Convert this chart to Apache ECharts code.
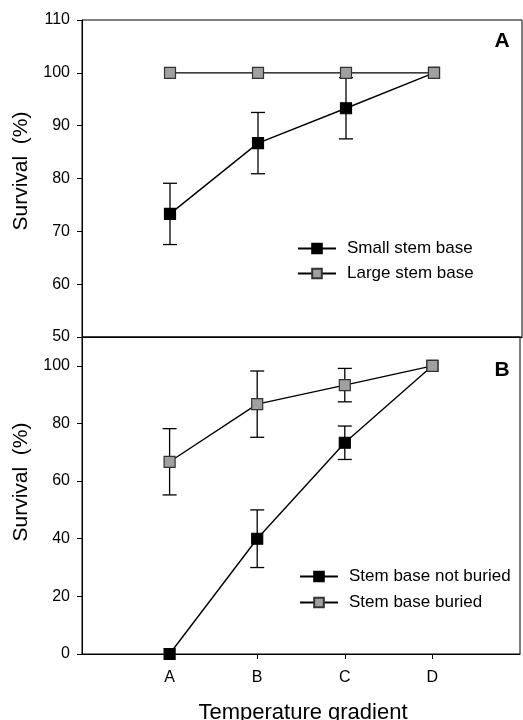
<!DOCTYPE html>
<html>
<head>
<meta charset="utf-8">
<script src="https://cdn.jsdelivr.net/npm/echarts@6/dist/echarts.min.js"></script>
<style>
  html, body { margin: 0; padding: 0; background: #fff; }
  #chart { width: 523px; height: 720px; }
</style>
</head>
<body>
<div id="chart"></div>
<script>
// categories along the temperature gradient
const categories = ['A', 'B', 'C', 'D'];

// panel A: stem base size
const smallStem = [73.3, 86.7, 93.3, 100];
const smallStemErr = [5.8, 5.8, 5.8, 0];
const largeStem = [100, 100, 100, 100];

// panel B: burial
const notBuried = [0, 40, 73.3, 100];
const notBuriedErr = [0, 10, 5.8, 0];
const buried = [66.7, 86.7, 93.3, 100];
const buriedErr = [11.5, 11.5, 5.8, 0];

const topTicks = [50, 60, 70, 80, 90, 100, 110];
const bottomTicks = [0, 20, 40, 60, 80, 100];

// padded axis so the points sit one step in from each edge
const axisCats = [''].concat(categories, ['']);

const chart = echarts.init(document.getElementById('chart'));

const font = '"Liberation Sans", Arial, sans-serif';

function pairs(vals) {
  return categories.map((c, i) => [c, vals[i]]);
}

function errData(vals, errs) {
  const out = [];
  categories.forEach((c, i) => {
    if (errs[i] > 0) out.push([c, vals[i] - errs[i], vals[i] + errs[i]]);
  });
  return out;
}

function renderErr(params, api) {
  const x = api.value(0);
  const lo = api.coord([x, api.value(1)]);
  const hi = api.coord([x, api.value(2)]);
  const cap = 7;
  const st = { stroke: '#000', lineWidth: 1.3 };
  return {
    type: 'group',
    children: [
      { type: 'line', shape: { x1: lo[0], y1: lo[1], x2: hi[0], y2: hi[1] }, style: st },
      { type: 'line', shape: { x1: lo[0] - cap, y1: lo[1], x2: lo[0] + cap, y2: lo[1] }, style: st },
      { type: 'line', shape: { x1: hi[0] - cap, y1: hi[1], x2: hi[0] + cap, y2: hi[1] }, style: st }
    ]
  };
}

function lineSeries(name, vals, fill, xi) {
  return {
    name: name,
    type: 'line',
    xAxisIndex: xi,
    yAxisIndex: xi,
    data: pairs(vals),
    symbol: 'rect',
    symbolSize: 11,
    showSymbol: true,
    animation: false,
    z: fill === '#000' ? 3 : 4,
    lineStyle: { color: '#000', width: 1.4 },
    itemStyle: { color: fill, borderColor: fill === '#000' ? '#000' : '#333', borderWidth: 1.2 }
  };
}

function errSeries(vals, errs, xi) {
  return {
    type: 'custom',
    xAxisIndex: xi,
    yAxisIndex: xi,
    data: errData(vals, errs),
    renderItem: renderErr,
    animation: false,
    z: 2
  };
}

const yLabel = { color: '#000', fontSize: 16, fontFamily: font, margin: 12 };

const option = {
  backgroundColor: '#fff',
  animation: false,
  grid: [
    { left: 82, right: 1, top: 20, height: 317, show: true, borderColor: '#000', borderWidth: 1 },
    { left: 82, right: 1, top: 337, height: 317, show: true, borderColor: '#000', borderWidth: 1 }
  ],
  xAxis: [
    {
      type: 'category', gridIndex: 0, data: axisCats, boundaryGap: false,
      axisLine: { lineStyle: { color: '#000' } },
      axisTick: { show: false }, axisLabel: { show: false }, splitLine: { show: false }
    },
    {
      type: 'category', gridIndex: 1, data: axisCats, boundaryGap: false,
      axisLine: { lineStyle: { color: '#000' } },
      axisTick: { length: 5, lineStyle: { color: '#000' }, interval: (i, v) => v !== '' },
      axisLabel: { color: '#000', fontSize: 16, fontFamily: font, margin: 16, interval: 0 },
      splitLine: { show: false }
    }
  ],
  yAxis: [
    {
      type: 'value', gridIndex: 0, min: topTicks[0], max: topTicks[topTicks.length - 1], interval: 10,
      axisLine: { show: true, lineStyle: { color: '#000' } },
      axisTick: { show: true, length: 5, lineStyle: { color: '#000' } },
      axisLabel: yLabel, splitLine: { show: false }
    },
    {
      type: 'value', gridIndex: 1, min: bottomTicks[0], max: 110, interval: 20,
      axisLine: { show: true, lineStyle: { color: '#000' } },
      axisTick: { show: true, length: 5, lineStyle: { color: '#000' } },
      axisLabel: Object.assign({}, yLabel, {
        formatter: v => (bottomTicks.indexOf(v) >= 0 ? String(v) : '')
      }),
      splitLine: { show: false }
    }
  ],
  legend: [
    {
      data: ['Small stem base', 'Large stem base'],
      orient: 'vertical', left: 297, top: 240, itemWidth: 38, itemHeight: 12, itemGap: 8,
      padding: 0,
      textStyle: { color: '#000', fontSize: 17, fontFamily: font, padding: [0, 0, 0, 6] }
    },
    {
      data: ['Stem base not buried', 'Stem base buried'],
      orient: 'vertical', left: 299, top: 568, itemWidth: 38, itemHeight: 12, itemGap: 9,
      padding: 0,
      textStyle: { color: '#000', fontSize: 17, fontFamily: font, padding: [0, 0, 0, 6] }
    }
  ],
  graphic: [
    { type: 'text', x: 21, y: 171, rotation: Math.PI / 2,
      style: { text: 'Survival  (%)', font: '21px ' + font, fill: '#000', align: 'center', verticalAlign: 'middle' } },
    { type: 'text', x: 21, y: 482, rotation: Math.PI / 2,
      style: { text: 'Survival  (%)', font: '21px ' + font, fill: '#000', align: 'center', verticalAlign: 'middle' } },
    { type: 'text', x: 502, y: 41,
      style: { text: 'A', font: 'bold 21px ' + font, fill: '#000', align: 'center', verticalAlign: 'middle' } },
    { type: 'text', x: 502, y: 370,
      style: { text: 'B', font: 'bold 21px ' + font, fill: '#000', align: 'center', verticalAlign: 'middle' } },
    { type: 'text', x: 303, y: 713,
      style: { text: 'Temperature gradient', font: '22px ' + font, fill: '#000', align: 'center', verticalAlign: 'middle' } }
  ],
  series: [
    errSeries(smallStem, smallStemErr, 0),
    lineSeries('Small stem base', smallStem, '#000', 0),
    lineSeries('Large stem base', largeStem, '#a0a0a0', 0),
    errSeries(notBuried, notBuriedErr, 1),
    errSeries(buried, buriedErr, 1),
    lineSeries('Stem base not buried', notBuried, '#000', 1),
    lineSeries('Stem base buried', buried, '#a0a0a0', 1)
  ]
};

chart.setOption(option);
</script>
</body>
</html>
